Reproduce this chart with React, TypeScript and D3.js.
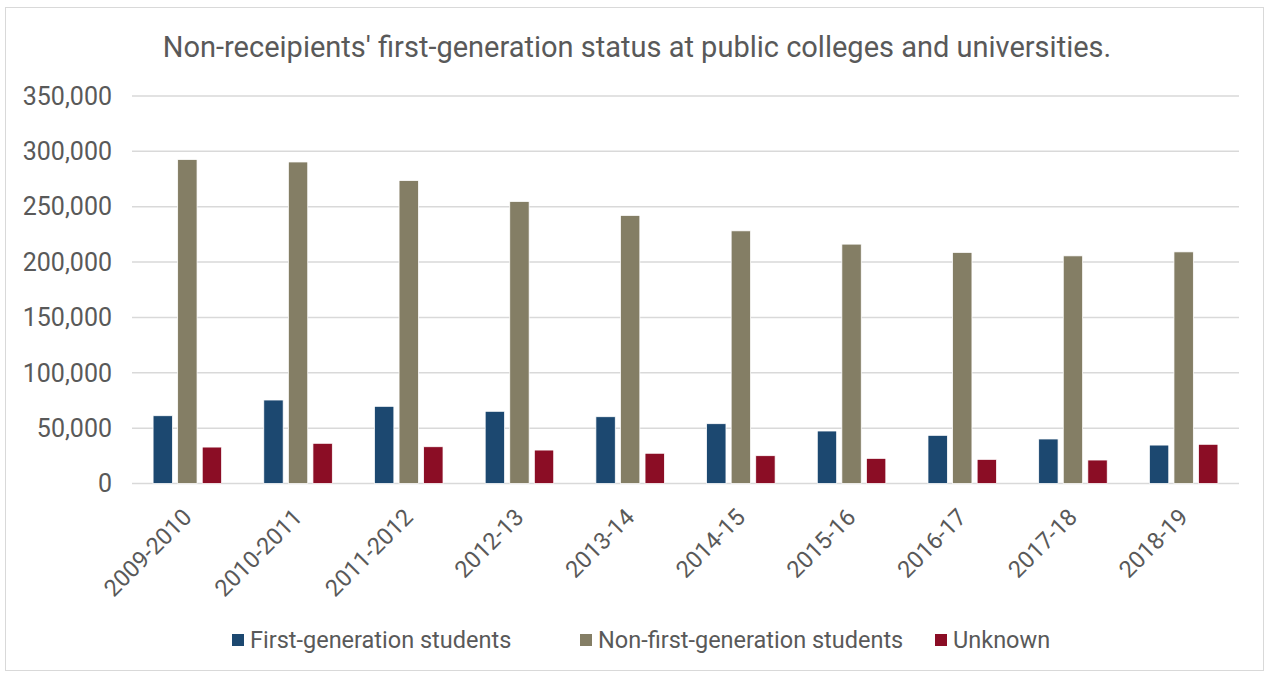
import React from "react";
import * as d3 from "d3";

const categories = ["2009-2010", "2010-2011", "2011-2012", "2012-13", "2013-14", "2014-15", "2015-16", "2016-17", "2017-18", "2018-19"];
const firstGen = [61200, 75400, 69700, 65200, 60300, 54000, 47400, 43500, 40200, 34700];
const nonFirstGen = [292600, 290400, 273600, 254700, 242100, 228200, 216200, 208700, 205600, 209200];
const unknown = [32900, 36300, 33200, 30200, 27300, 25100, 22700, 21800, 21200, 35400];
const seriesNames = ["First-generation students", "Non-first-generation students", "Unknown"];
const yTicks = [0, 50000, 100000, 150000, 200000, 250000, 300000, 350000];

const colors = ["#1c4870", "#847e65", "#8b0d25"];
const W = 1265, H = 673;
const FONT = "Roboto, 'Noto Sans', sans-serif";
const TXT = "#595959";

export default function App() {
  const x0 = d3.scaleBand().domain(categories).range([132, 1239]).paddingInner(0).paddingOuter(0);
  const y = d3.scaleLinear().domain([0, 350000]).range([483.5, 96]);
  const band = x0.bandwidth();
  const barW = band * 0.175;
  const pitch = band * 0.222;
  const fmt = d3.format(",");
  const series = [firstGen, nonFirstGen, unknown];
  const legendX = [232, 580, 935];

  return (
    <svg width={W} height={H} style={{ position: "absolute", left: 0, top: 0, background: "#fff" }}>
      <rect x={5.5} y={7.5} width={1258} height={663} fill="#fff" stroke="#d9d9d9" strokeWidth={1} />
      <text x={637} y={57} textAnchor="middle" fontFamily={FONT} fontSize={29} fill={TXT}>
        Non-receipients' first-generation status at public colleges and universities.
      </text>
      {yTicks.map((t) => (
        <g key={t}>
          <line x1={132} x2={1239} y1={y(t)} y2={y(t)} stroke="#d9d9d9" strokeWidth={1.5} />
          <text x={112} y={y(t)} dy="0.35em" textAnchor="end" fontFamily={FONT} fontSize={25} fill={TXT}>
            {fmt(t)}
          </text>
        </g>
      ))}
      {categories.map((c, i) => {
        const cx = (x0(c) as number) + band / 2;
        return (
          <g key={c}>
            {series.map((s, k) => (
              <rect
                key={k}
                x={cx + (k - 1) * pitch - barW / 2}
                y={y(s[i])}
                width={barW}
                height={y(0) - y(s[i])}
                fill={colors[k]}
                stroke="#fff"
                strokeWidth={0.75}
              />
            ))}
            <text
              transform={`translate(${cx - 6},${507}) rotate(-45)`}
              textAnchor="end"
              dy="0.7em"
              fontFamily={FONT}
              fontSize={23.5}
              fill={TXT}
            >
              {c}
            </text>
          </g>
        );
      })}
      {seriesNames.map((n, k) => (
        <g key={n}>
          <rect x={legendX[k]} y={634} width={12} height={12} fill={colors[k]} />
          <text x={legendX[k] + 18} y={640} dy="0.36em" fontFamily={FONT} fontSize={23.5} fill={TXT}>
            {n}
          </text>
        </g>
      ))}
    </svg>
  );
}
